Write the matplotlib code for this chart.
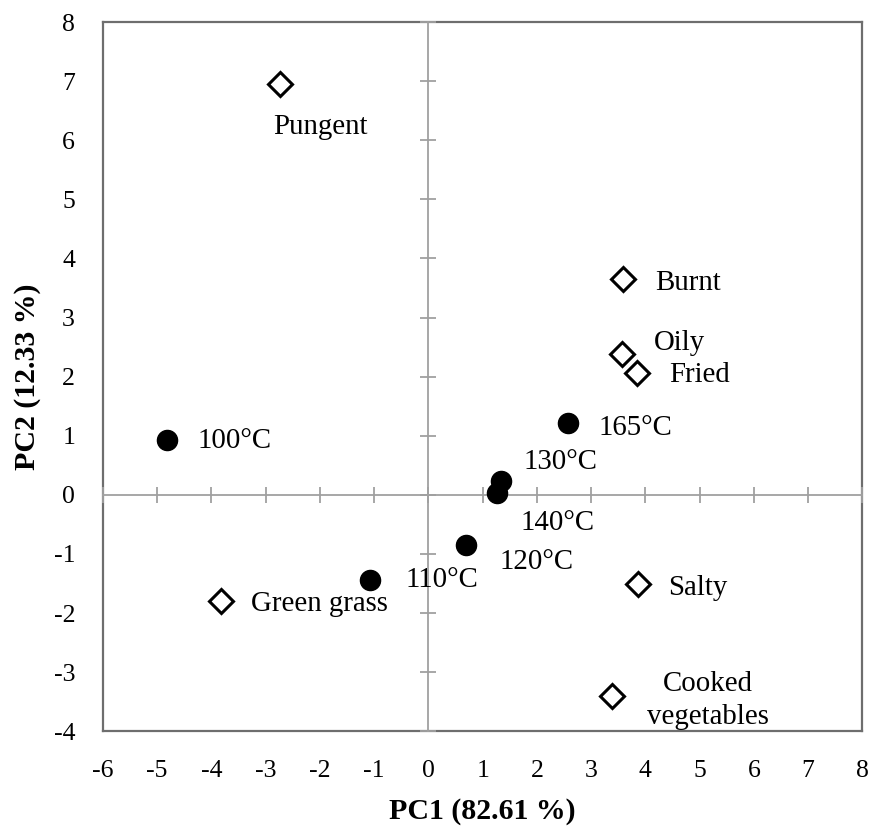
import matplotlib
matplotlib.use("Agg")
import matplotlib.pyplot as plt

plt.rcParams["font.family"] = ["Liberation Serif", "DejaVu Serif"]
plt.rcParams["axes.unicode_minus"] = False

# samples (roasting temperature), PC scores
temp_labels = ["100°C", "110°C", "120°C", "130°C", "140°C", "165°C"]
temp_pc1 = [-4.82, -1.07, 0.70, 1.34, 1.27, 2.57]
temp_pc2 = [0.93, -1.44, -0.85, 0.24, 0.03, 1.21]

# sensory attributes, loadings
attr_labels = ["Pungent", "Burnt", "Oily", "Fried", "Salty", "Green grass", "Cooked\nvegetables"]
attr_pc1 = [-2.73, 3.59, 3.57, 3.84, 3.87, -3.82, 3.38]
attr_pc2 = [6.95, 3.65, 2.39, 2.06, -1.51, -1.79, -3.41]

xticks = list(range(-6, 9))
yticks = list(range(-4, 9))

# label offsets in pixels (dx, dy, ha)
temp_offsets = [(31, -1, "left"), (35, 0, "left"), (33, -17, "left"),
                (22, 19, "left"), (23, -30, "left"), (31, -5, "left")]
attr_offsets = [(-7, -43, "left"), (32, -4, "left"), (32, 11, "left"),
                (32, -2, "left"), (30, -4, "left"), (30, -3, "left"),
                (96, -4, "center")]

fig = plt.figure(figsize=(8.72, 8.31), dpi=100)
rect = [0.118, 0.120, 0.871, 0.8535]
ax = fig.add_axes(rect)
ax.set_xlim(-6, 8)
ax.set_ylim(-4, 8)
ax.set_xticks(xticks)
ax.set_yticks(yticks)
ax.tick_params(length=0, labelsize=18.5)
ax.tick_params(axis="x", pad=21)
ax.tick_params(axis="y", pad=20)
for s in ax.spines.values():
    s.set_color("#6e6e6e")
    s.set_linewidth(1.6)
ax.set_xlabel("PC1 (82.61 %)", fontsize=21.5, fontweight="bold", labelpad=11)
ax.set_ylabel("PC2 (12.33 %)", fontsize=21.5, fontweight="bold", labelpad=9)

# centre axes with crossing ticks
cx = fig.add_axes(rect, frameon=True, sharex=ax, sharey=ax)
cx.patch.set_visible(False)
for side in ["top", "right"]:
    cx.spines[side].set_visible(False)
cx.spines["left"].set_position(("data", 0))
cx.spines["bottom"].set_position(("data", 0))
for side in ["left", "bottom"]:
    cx.spines[side].set_color("#a0a0a0")
    cx.spines[side].set_linewidth(1.3)
cx.tick_params(direction="inout", length=12, width=1.3, color="#a0a0a0",
               labelleft=False, labelbottom=False)

cx.scatter(temp_pc1, temp_pc2, s=210, color="black", zorder=5)
cx.plot(attr_pc1, attr_pc2, linestyle="none", marker="D", markersize=12,
        markerfacecolor="white", markeredgecolor="black", markeredgewidth=2.2, zorder=5)

for lab, x, y, (dx, dy, ha) in zip(temp_labels, temp_pc1, temp_pc2, temp_offsets):
    cx.annotate(lab, (x, y), xytext=(dx, dy), textcoords="offset pixels",
                ha=ha, va="center", fontsize=20.8)
for lab, x, y, (dx, dy, ha) in zip(attr_labels, attr_pc1, attr_pc2, attr_offsets):
    cx.annotate(lab, (x, y), xytext=(dx, dy), textcoords="offset pixels",
                ha=ha, va="center", fontsize=20.8, linespacing=1.35)

fig.savefig("out.png", dpi=100)
